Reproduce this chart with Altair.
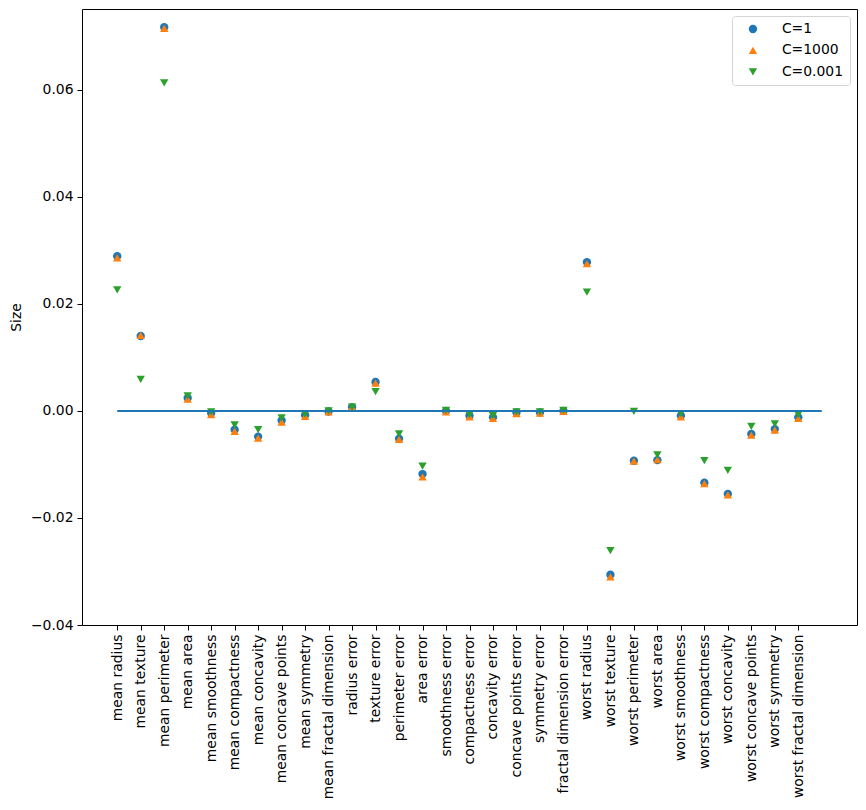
import altair as alt
import pandas as pd

features = [
    "mean radius", "mean texture", "mean perimeter", "mean area", "mean smoothness",
    "mean compactness", "mean concavity", "mean concave points", "mean symmetry",
    "mean fractal dimension", "radius error", "texture error", "perimeter error",
    "area error", "smoothness error", "compactness error", "concavity error",
    "concave points error", "symmetry error", "fractal dimension error",
    "worst radius", "worst texture", "worst perimeter", "worst area",
    "worst smoothness", "worst compactness", "worst concavity",
    "worst concave points", "worst symmetry", "worst fractal dimension",
]

coef_c1 = [0.0289, 0.0140, 0.0717, 0.0024, -0.0004, -0.0035, -0.0048, -0.0018, -0.0008, -0.0001,
           0.0007, 0.0054, -0.0052, -0.0118, 0.0000, -0.0009, -0.0012, -0.0003, -0.0003, 0.0000,
           0.0278, -0.0306, -0.0093, -0.0092, -0.0009, -0.0134, -0.0155, -0.0043, -0.0034, -0.0012]
coef_c1000 = [0.0286, 0.0141, 0.0715, 0.0022, -0.0007, -0.0038, -0.0051, -0.0021, -0.0010, -0.0002,
              0.0007, 0.0052, -0.0053, -0.0123, -0.0002, -0.0011, -0.0014, -0.0005, -0.0004, -0.0001,
              0.0275, -0.0310, -0.0094, -0.0091, -0.0011, -0.0136, -0.0157, -0.0045, -0.0036, -0.0014]
coef_c0001 = [0.0226, 0.0059, 0.0613, 0.0028, -0.0002, -0.0026, -0.0035, -0.0013, -0.0006, 0.0000,
              0.0007, 0.0036, -0.0043, -0.0103, 0.0001, -0.0007, -0.0009, -0.0002, -0.0002, 0.0001,
              0.0222, -0.0261, -0.0001, -0.0082, -0.0005, -0.0093, -0.0111, -0.0029, -0.0024, -0.0007]

series_names = ["C=1", "C=1000", "C=0.001"]
series_colors = ["#1f77b4", "#ff7f0e", "#2ca02c"]
series_shapes = ["circle", "triangle-up", "triangle-down"]

y_ticks = [-0.04, -0.02, 0.0, 0.02, 0.04, 0.06]
hline_start = [0]
hline_end = [30]
hline_y = [0.0]

rows = []
for s, vals in zip(series_names, [coef_c1, coef_c1000, coef_c0001]):
    for i, (f, v) in enumerate(zip(features, vals)):
        rows.append({"idx": i, "feature": f, "coef": v, "series": s})
df = pd.DataFrame(rows)
line_df = pd.DataFrame({"x0": hline_start, "x1": hline_end, "y": hline_y})

label_expr = "[" + ",".join("'%s'" % f for f in features) + "][datum.value]"

xscale = alt.Scale(domain=[-1.5, 31.5], nice=False, zero=False)
yscale = alt.Scale(domain=[-0.04, 0.0751], nice=False, zero=False)

x_axis = alt.Axis(values=list(range(30)), labelExpr=label_expr, labelAngle=270,
                  labelOverlap=False, labelBound=False, labelFlush=False)
y_axis = alt.Axis(values=y_ticks, format=".2f")

legend = alt.Legend(
    title=None, orient="top-right", offset=7, fillColor="white",
    strokeColor="#d5d5d5", cornerRadius=3, padding=6, labelFontSize=13.9,
    labelFont="DejaVu Sans", labelColor="black", symbolSize=70, symbolStrokeWidth=0,
    rowPadding=6.5, labelOffset=22, symbolOffset=8,
)

points = alt.Chart(df).mark_point(filled=True, size=70, opacity=1).encode(
    x=alt.X("idx:Q", scale=xscale, title=None, axis=x_axis),
    y=alt.Y("coef:Q", scale=yscale, title="Size", axis=y_axis),
    color=alt.Color("series:N", scale=alt.Scale(domain=series_names, range=series_colors), legend=legend),
    shape=alt.Shape("series:N", scale=alt.Scale(domain=series_names, range=series_shapes), legend=legend),
)

hline = alt.Chart(line_df).mark_rule(color="#1f77b4", strokeWidth=2).encode(
    x=alt.X("x0:Q", scale=xscale, title=None, axis=x_axis),
    x2="x1:Q",
    y=alt.Y("y:Q", scale=yscale, title="Size", axis=y_axis),
)

chart = alt.layer(points, hline).properties(
    width=775, height=616,
    autosize=alt.AutoSizeParams(type="none"),
    padding={"left": 74, "top": 1, "right": 1, "bottom": 178},
).configure_view(
    stroke="black", strokeWidth=1
).configure_axis(
    grid=False, domain=False, tickColor="black", tickSize=5, labelPadding=4,
    labelFont="DejaVu Sans", labelFontSize=13.9, labelColor="black",
    titleFont="DejaVu Sans", titleFontSize=13.9, titleFontWeight="normal", titleColor="black",
    titlePadding=7, labelOverlap=False,
)

chart.save("out.html", embed_options={"renderer": "svg", "actions": False})
